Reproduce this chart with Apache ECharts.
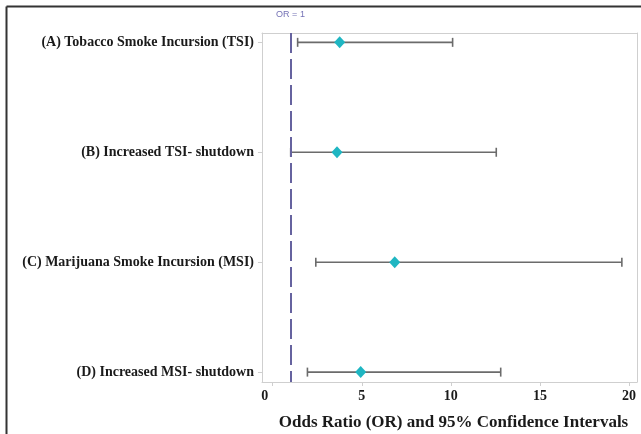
<!DOCTYPE html>
<html><head><meta charset="utf-8">
<script src="https://cdn.jsdelivr.net/npm/echarts@6/dist/echarts.min.js"></script>
<style>html,body{margin:0;padding:0;background:#fff}#c{width:641px;height:434px}</style>
</head><body><div id="c"></div>
<script>
const categories = ['(A) Tobacco Smoke Incursion (TSI)', '(B) Increased TSI- shutdown', '(C) Marijuana Smoke Incursion (MSI)', '(D) Increased MSI- shutdown'];
const oddsRatio = [3.76, 3.61, 6.85, 4.94];
const lowerCI = [1.40, 1.01, 2.42, 1.95];
const upperCI = [10.1, 12.55, 19.6, 12.8];
const xTicks = [0, 5, 10, 15, 20];
const refValue = 1;
const refLabel = 'OR = 1';
const xTitle = 'Odds Ratio (OR) and 95% Confidence Intervals';

const catIdx = categories.map((c, i) => i);
const chart = echarts.init(document.getElementById('c'), null, {renderer: 'canvas'});
const frameColor = '#cfcfcf';
const serif = '"Liberation Serif", "Times New Roman", serif';
const lblStyle = {fontFamily: serif, fontWeight: 'bold', fontSize: 14, color: '#1a1a1a'};
chart.setOption({
  animation: false,
  backgroundColor: '#fff',
  grid: {left: 262, right: 4, top: 33, bottom: 52, containLabel: false, outerBoundsMode: 'none'},
  xAxis: [{
    type: 'value', min: -0.6, max: 20.45, position: 'bottom',
    axisLine: {show: true, onZero: false, lineStyle: {color: frameColor, width: 1}},
    axisTick: {show: true, customValues: xTicks, length: 4, lineStyle: {color: frameColor}},
    axisLabel: {customValues: xTicks, margin: 7,
      formatter: v => v === 0 ? '{z|0}' : '{n|' + v + '}',
      rich: {z: Object.assign({padding: [0, 16, 0, 0]}, lblStyle), n: lblStyle}},
    splitLine: {show: false},
    name: xTitle, nameLocation: 'middle', nameGap: 32,
    nameTextStyle: {fontFamily: serif, fontWeight: 'bold', fontSize: 17, color: '#1a1a1a', padding: [0, 0, 0, 8]}
  }, {
    type: 'value', min: -0.6, max: 20.45, position: 'top',
    axisLine: {show: true, onZero: false, lineStyle: {color: frameColor, width: 1}},
    axisTick: {show: false}, axisLabel: {show: false}, splitLine: {show: false}
  }],
  yAxis: [{
    type: 'value', inverse: true, min: -0.085, max: 3.09, position: 'left',
    axisLine: {show: true, onZero: false, lineStyle: {color: frameColor, width: 1}},
    axisTick: {show: true, customValues: catIdx, length: 4, lineStyle: {color: frameColor}},
    axisLabel: Object.assign({customValues: catIdx, formatter: v => categories[Math.round(v)], margin: 8}, lblStyle),
    splitLine: {show: false}
  }, {
    type: 'value', inverse: true, min: -0.085, max: 3.09, position: 'right',
    axisLine: {show: true, onZero: false, lineStyle: {color: frameColor, width: 1}},
    axisTick: {show: false}, axisLabel: {show: false}, splitLine: {show: false}
  }],
  graphic: [
    {type: 'line', shape: {x1: 6.5, y1: 6.5, x2: 641, y2: 6.5}, style: {stroke: '#333', lineWidth: 2}},
    {type: 'line', shape: {x1: 6.5, y1: 6.5, x2: 6.5, y2: 434}, style: {stroke: '#333', lineWidth: 2}}
  ],
  series: [{
    type: 'custom',
    xAxisIndex: 0, yAxisIndex: 0,
    data: catIdx.map(i => [lowerCI[i], upperCI[i], i]),
    renderItem: function (params, api) {
      const y = api.value(2);
      const p1 = api.coord([api.value(0), y]);
      const p2 = api.coord([api.value(1), y]);
      const h = 4.5;
      const st = {stroke: '#6b6b6b', lineWidth: 1.6};
      return {type: 'group', children: [
        {type: 'line', shape: {x1: p1[0], y1: p1[1], x2: p2[0], y2: p2[1]}, style: st},
        {type: 'line', shape: {x1: p1[0], y1: p1[1] - h, x2: p1[0], y2: p1[1] + h}, style: st},
        {type: 'line', shape: {x1: p2[0], y1: p2[1] - h, x2: p2[0], y2: p2[1] + h}, style: st}
      ]};
    },
    z: 2
  }, {
    type: 'scatter',
    xAxisIndex: 0, yAxisIndex: 0,
    data: catIdx.map(i => [oddsRatio[i], i]),
    symbol: 'diamond', symbolSize: [11, 12],
    itemStyle: {color: '#1fb6c2', opacity: 1},
    z: 3,
    markLine: {
      silent: true, symbol: 'none',
      data: [{xAxis: refValue}],
      lineStyle: {type: [20, 6], color: '#66639f', width: 2},
      label: {show: true, formatter: refLabel, position: 'start', color: '#7471b5', fontSize: 9, fontFamily: '"Liberation Sans Narrow", "Liberation Sans", sans-serif', distance: 14}
    }
  }]
});
</script></body></html>
